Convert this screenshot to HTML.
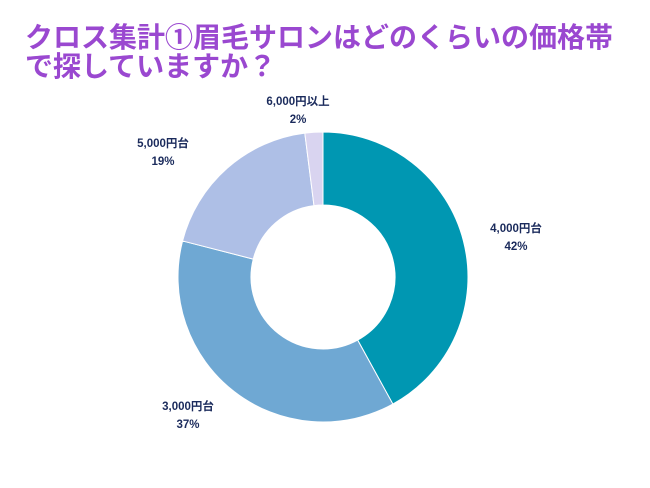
<!DOCTYPE html>
<html><head><meta charset="utf-8"><style>
body{margin:0;width:650px;height:488px;background:#fff;overflow:hidden;font-family:"Liberation Sans","Noto Sans CJK JP",sans-serif}
#title{position:absolute;left:25px;top:23px;font-size:28px;line-height:29px;font-weight:bold;color:#9a48d0;white-space:nowrap}
</style></head><body>
<div id="title">クロス集計①眉毛サロンはどのくらいの価格帯<br>で探していますか？</div>
<svg id="chart" width="650" height="488" style="position:absolute;left:0;top:0"></svg>
<script>
const categories=["4,000円台","3,000円台","5,000円台","6,000円以上"];
const values=[42,37,19,2];
const colors=["#0097b2","#6fa8d3","#aebfe6","#d9d4f0"];
const labelPos=[[516,232],[188,410],[163,147],[298,105]];
const cx=323,cy=277,R=145,r=72;
const svg=document.getElementById('chart');
const NS="http://www.w3.org/2000/svg";
const total=values.reduce((a,b)=>a+b,0);
let a0=0;
function pt(rad,a){return [cx+rad*Math.sin(a),cy-rad*Math.cos(a)];}
values.forEach((v,i)=>{
  const a1=a0+v/total*2*Math.PI;
  const [x0,y0]=pt(R,a0),[x1,y1]=pt(R,a1),[x2,y2]=pt(r,a1),[x3,y3]=pt(r,a0);
  const lg=(a1-a0)>Math.PI?1:0;
  const p=document.createElementNS(NS,'path');
  p.setAttribute('d',`M${x0},${y0}A${R},${R} 0 ${lg} 1 ${x1},${y1}L${x2},${y2}A${r},${r} 0 ${lg} 0 ${x3},${y3}Z`);
  p.setAttribute('fill',colors[i]);
  p.setAttribute('stroke','#fff');
  p.setAttribute('stroke-width','1');
  
  
  svg.appendChild(p);
  const [lx,ly]=labelPos[i];
  [categories[i],v+'%'].forEach((s,k)=>{
    const t=document.createElementNS(NS,'text');
    t.setAttribute('x',lx);t.setAttribute('y',ly+k*18);
    t.setAttribute('text-anchor','middle');
    t.setAttribute('font-size','11.5');t.setAttribute('font-weight','bold');
    t.setAttribute('fill','#1b2b5c');
    t.setAttribute('font-family','"Liberation Sans","Noto Sans CJK JP",sans-serif');
    t.textContent=s;
    
    
    svg.appendChild(t);
  });
  a0=a1;
});
</script>
</body></html>
